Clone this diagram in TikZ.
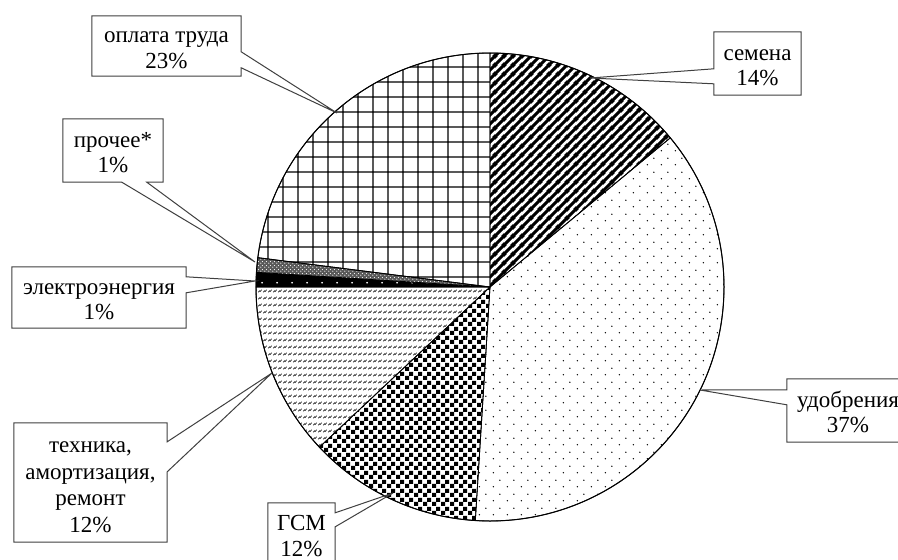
\documentclass[tikz,border=0pt]{standalone}
\usepackage{fontspec}
\setmainfont{Liberation Serif}
\usetikzlibrary{patterns.meta,calc}

\tikzdeclarepattern{name=pseed, type=uncolored, tile size={(9pt,9pt)},
  bounding box={(0pt,0pt) and (9pt,9pt)},
  code={\draw[line width=3.2pt] (-2pt,-2pt)--(11pt,11pt) (-5pt,4pt)--(5pt,14pt) (4pt,-5pt)--(14pt,5pt);}}
\tikzdeclarepattern{name=pdots, type=uncolored, tile size={(14pt,14pt)},
  bounding box={(0pt,0pt) and (14pt,14pt)},
  code={\fill (3.5pt,3.5pt) circle (0.8pt); \fill (10.5pt,10.5pt) circle (0.8pt);}}
\tikzdeclarepattern{name=pcheck, type=uncolored, tile size={(9pt,9pt)},
  bounding box={(0pt,0pt) and (9pt,9pt)},
  code={\fill (0pt,0pt) rectangle (4.5pt,4.5pt); \fill (4.5pt,4.5pt) rectangle (9pt,9pt);}}
\tikzdeclarepattern{name=pwave, type=uncolored, tile size={(4.6pt,7pt)},
  bounding box={(0pt,0pt) and (4.6pt,7pt)},
  code={\draw[line width=0.7pt] (0.4pt,2pt) -- (1.6pt,3.6pt) -- (2.5pt,3pt) -- (3.9pt,4.8pt);}}
\tikzdeclarepattern{name=pwdots, type=uncolored, tile size={(15pt,15pt)},
  bounding box={(0pt,0pt) and (15pt,15pt)},
  code={\fill (7.5pt,7.5pt) circle (1pt);}}
\tikzdeclarepattern{name=pfine, type=uncolored, tile size={(4pt,4pt)},
  bounding box={(0pt,0pt) and (4pt,4pt)},
  code={\fill (1pt,1pt) circle (0.7pt); \fill (3pt,3pt) circle (0.7pt);}}
\tikzdeclarepattern{name=pgrid, type=uncolored, tile size={(14.5pt,14.5pt)},
  bounding box={(0pt,0pt) and (14.5pt,14.5pt)},
  code={\draw[line width=1.3pt] (7.25pt,-1pt) -- (7.25pt,15.5pt) (-1pt,7.25pt) -- (15.5pt,7.25pt);}}

\newcommand{\pieslice}[3]{%
  \path[#1] (C) -- ++(-#2:234) arc[start angle=-#2, end angle=-#3, radius=234] -- cycle;}
\newcommand{\boxlines}[1]{\raisebox{-4.5pt}[\height][\depth]{\begin{tabular}{@{}c@{}}#1\end{tabular}}}

\begin{document}
\begin{tikzpicture}[x=1pt,y=-1pt,
  font=\fontsize{23}{25.5}\selectfont,
  lbl/.style={inner sep=0pt},
  callout/.style={draw=black!75, line width=1pt, line join=miter},
  sl/.style={draw=black, line width=0.8pt}]
\useasboundingbox (0,0) rectangle (898,560);
\clip (0,0) rectangle (898,560);
\fill[white] (0,0) rectangle (898,560);
\coordinate (C) at (490,287);

% slices (page angles, clockwise from top)
\pieslice{sl, pattern=pseed}{90}{39.6}
\pieslice{sl, pattern=pdots}{39.6}{-93.6}
\pieslice{sl, pattern=pcheck}{-93.6}{-136.8}
\pieslice{sl, pattern=pwave}{-136.8}{-180}
\pieslice{fill=black}{-180}{-183.6}
\pieslice{sl, pattern=pwdots, pattern color=white}{-180}{-183.6}
\pieslice{fill=black!65}{-183.6}{-187.2}
\pieslice{sl, pattern=pfine, pattern color=white}{-183.6}{-187.2}
\pieslice{sl, pattern=pgrid}{-187.2}{-270}
\draw[line width=1pt] (C) circle (234);

% label boxes
\node[lbl, minimum width=149, minimum height=60] (opl) at (166.5,46) {\boxlines{оплата труда\\23\%}};
\node[lbl, minimum width=100, minimum height=63] (pro) at (113,150.5) {\boxlines{прочее*\\1\%}};
\node[lbl, minimum width=174, minimum height=61] (ele) at (99,297.5) {\boxlines{электроэнергия\\1\%}};
\node[lbl, minimum width=153, minimum height=119, font=\fontsize{23}{26.5}\selectfont] (teh) at (90.5,482.5) {\boxlines{техника,\\амортизация,\\ремонт\\12\%}};
\node[lbl, minimum width=67, minimum height=62] (gsm) at (301.5,534) {\boxlines{ГСМ\\12\%}};
\node[lbl, minimum width=87, minimum height=63] (sem) at (757.5,63.5) {\boxlines{семена\\14\%}};
\node[lbl, minimum width=122, minimum height=63] (udo) at (848,410.5) {\boxlines{удобрения\\37\%}};

% pointer tips
\coordinate (tOpl) at (337,113);
\coordinate (tPro) at (255,262);
\coordinate (tEle) at (255,281);
\coordinate (tTeh) at (272,373);
\coordinate (tGsm) at (393,493);
\coordinate (tSem) at (590,78);
\coordinate (tUdo) at (700,390);

% callout outlines
\draw[callout] (opl.north west) -- (opl.north east) -- ($(opl.north east)+(0,36)$) -- (tOpl)
  -- ($(opl.north east)+(0,52)$) -- (opl.south east) -- (opl.south west) -- cycle;
\draw[callout] (pro.north west) -- (pro.north east) -- (pro.south east) -- ($(pro.south west)+(84,0)$)
  -- (tPro) -- ($(pro.south west)+(59,0)$) -- (pro.south west) -- cycle;
\draw[callout] (ele.north west) -- (ele.north east) -- ($(ele.north east)+(0,10)$) -- (tEle)
  -- ($(ele.north east)+(0,26)$) -- (ele.south east) -- (ele.south west) -- cycle;
\draw[callout] (teh.north west) -- (teh.north east) -- ($(teh.north east)+(0,19)$) -- (tTeh)
  -- ($(teh.north east)+(0,49)$) -- (teh.south east) -- (teh.south west) -- cycle;
\draw[callout] (gsm.north west) -- (gsm.north east) -- ($(gsm.north east)+(0,10)$) -- (tGsm)
  -- ($(gsm.north east)+(0,24)$) -- (gsm.south east) -- (gsm.south west) -- cycle;
\draw[callout] (sem.north west) -- (sem.north east) -- (sem.south east) -- (sem.south west)
  -- ($(sem.north west)+(0,52)$) -- (tSem) -- ($(sem.north west)+(0,37)$) -- cycle;
\draw[callout] (udo.north west) -- (udo.north east) -- (udo.south east) -- (udo.south west)
  -- ($(udo.north west)+(0,26)$) -- (tUdo) -- ($(udo.north west)+(0,11)$) -- cycle;
\end{tikzpicture}
\end{document}
